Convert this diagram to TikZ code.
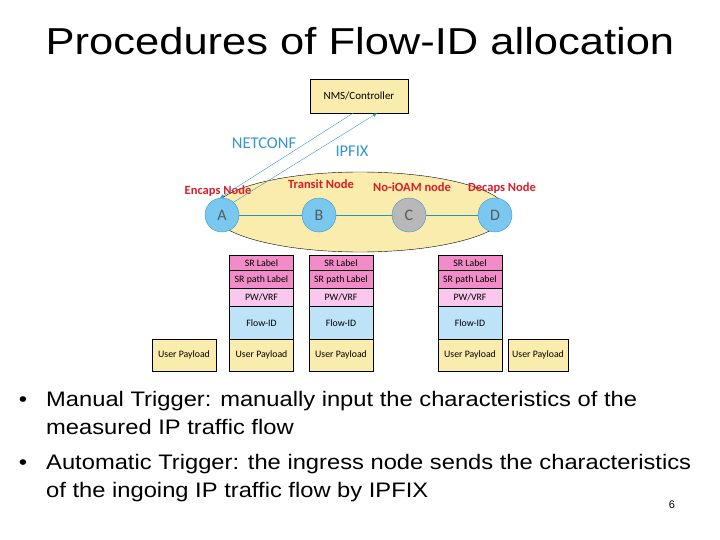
\documentclass[tikz,border=0pt]{standalone}
\usepackage{fontspec}
\setmainfont{Liberation Sans}
\newfontfamily\titlefont[FakeStretch=1.16]{Liberation Sans}
\newfontfamily\bodyfont[FakeStretch=1.13]{Liberation Sans}
\newfontfamily\calfont{Carlito}
\usetikzlibrary{arrows.meta,calc}

\definecolor{paleyellow}{RGB}{250,236,172}
\definecolor{nodeblue}{RGB}{122,200,240}
\definecolor{nodeedge}{RGB}{58,150,205}
\definecolor{linkteal}{RGB}{40,150,180}
\definecolor{labelred}{RGB}{220,28,40}
\definecolor{protoblue}{RGB}{50,150,205}
\definecolor{srpink}{RGB}{242,140,200}
\definecolor{pwpink}{RGB}{250,200,238}
\definecolor{flowblue}{RGB}{190,226,248}

\tikzset{
  router/.style={circle, draw=nodeedge, fill=nodeblue, minimum size=34pt, inner sep=0pt,
    text=black!65, font=\calfont\fontsize{16}{16}\selectfont},
  role/.style={text=labelred, font=\calfont\bfseries\fontsize{12.5}{13}\selectfont},
  proto/.style={text=protoblue, font=\calfont\fontsize{16.5}{17}\selectfont},
  cell/.style={draw, minimum width=64pt, inner sep=0pt, font=\calfont\fontsize{9.8}{10}\selectfont},
  srcell/.style={cell, fill=srpink},
  pwcell/.style={cell, fill=pwpink, minimum height=18pt},
  flowcell/.style={cell, fill=flowblue, minimum height=32.5pt},
  paycell/.style={cell, fill=paleyellow, minimum height=32.5pt},
  bodyline/.style={anchor=base west, inner sep=0pt, font=\bodyfont\fontsize{21}{21}\selectfont}
}

\begin{document}
\begin{tikzpicture}[x=1pt, y=-1pt]
        \useasboundingbox (0, 0) rectangle (720, 540);

        \node (title) at (360, 41) [font=\titlefont\fontsize{37.5}{38}\selectfont] {Procedures of Flow-ID allocation};

        \node (ctrl) at (359, 96) [draw, fill=paleyellow, minimum width=98pt, minimum height=34pt,
          font=\calfont\fontsize{11}{11}\selectfont] {NMS/Controller};

        \draw[fill=paleyellow] (360, 212) ellipse [x radius=147, y radius=40];

        \node (A) at (222, 215) [router] {A};
        \node (B) at (319, 215) [router] {B};
        \node (C) at (409, 215) [router, fill=black!28] {C};
        \node (D) at (495, 215) [router] {D};

        \draw[linkteal, line width=0.6pt] (A) -- (B);
        \draw[linkteal, line width=0.6pt] (B) -- (C);
        \draw[linkteal, line width=0.6pt] (C) -- (D);

        \node (encaps) at (218, 191) [role] {Encaps Node};
        \node (transit) at (321, 184) [role] {Transit Node};
        \node (noioam) at (412, 187) [role] {No-iOAM node};
        \node (decaps) at (502, 188) [role] {Decaps Node};

        \draw[protoblue, -{Latex[length=4pt,width=3.5pt]}] ($(ctrl.south)+(-6,0)$) -- (A.97);
        \draw[protoblue, -{Latex[length=4pt,width=3.5pt]}] (A.48) -- ($(ctrl.south)+(18,0)$);

        \node (netconf) at (264, 143) [proto] {NETCONF};
        \node (ipfix) at (352, 151) [proto] {IPFIX};

        \node (1-1) at (261.5, 262.75) [srcell, minimum height=15.5pt] {SR Label};
        \node (1-2) at (261.5, 279.5) [srcell, minimum height=18pt] {SR path Label};
        \node (1-3) at (261.5, 297.5) [pwcell] {PW/VRF};
        \node (1-4) at (261.5, 322.75) [flowcell] {Flow-ID};
        \node (1-5) at (261.5, 355.25) [paycell] {User Payload};

        \node (2-1) at (341, 262.75) [srcell, minimum height=15.5pt] {SR Label};
        \node (2-2) at (341, 279.5) [srcell, minimum height=18pt] {SR path Label};
        \node (2-3) at (341, 297.5) [pwcell] {PW/VRF};
        \node (2-4) at (341, 322.75) [flowcell] {Flow-ID};
        \node (2-5) at (341, 355.25) [paycell] {User Payload};

        \node (3-1) at (470, 262.75) [srcell, minimum height=15.5pt] {SR Label};
        \node (3-2) at (470, 279.5) [srcell, minimum height=18pt] {SR path Label};
        \node (3-3) at (470, 297.5) [pwcell] {PW/VRF};
        \node (3-4) at (470, 322.75) [flowcell] {Flow-ID};
        \node (3-5) at (470, 355.25) [paycell] {User Payload};

        \node (in) at (184, 355.25) [paycell] {User Payload};
        \node (out) at (538, 355.25) [paycell, minimum width=60pt] {User Payload};

        \node (b1) at (23, 406) [bodyline, anchor=base] {\textbullet};
        \node (l1) at (46, 406) [bodyline] {Manual Trigger: manually input the characteristics of the};
        \node (l2) at (46, 434) [bodyline] {measured IP traffic flow};
        \node (b2) at (23, 469) [bodyline, anchor=base] {\textbullet};
        \node (l3) at (46, 469) [bodyline] {Automatic Trigger: the ingress node sends the characteristics};
        \node (l4) at (46, 497) [bodyline] {of the ingoing IP traffic flow by IPFIX};

        \node (page) at (672, 505) [font=\fontsize{11}{11}\selectfont] {6};

    \end{tikzpicture}
\end{document}
